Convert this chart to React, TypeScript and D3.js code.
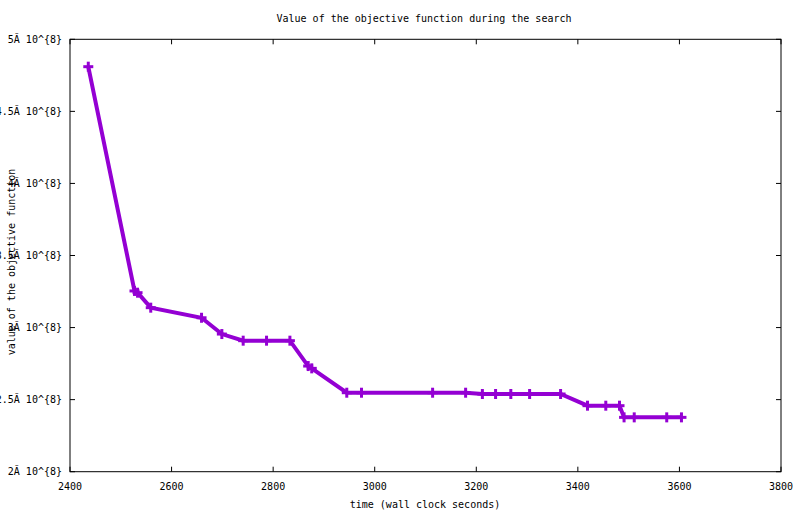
import React from "react";
import * as d3 from "d3";

const timeSeconds = [2436, 2527, 2533, 2559, 2659, 2699, 2741, 2787, 2833, 2869, 2876, 2945, 2974, 3114, 3179, 3212, 3238, 3268, 3305, 3366, 3419, 3455, 3482, 3491, 3511, 3575, 3604];
const objectiveValue = [4.81e8, 3.254e8, 3.242e8, 3.138e8, 3.068e8, 2.955e8, 2.909e8, 2.909e8, 2.909e8, 2.733e8, 2.717e8, 2.548e8, 2.548e8, 2.548e8, 2.548e8, 2.539e8, 2.539e8, 2.539e8, 2.539e8, 2.539e8, 2.458e8, 2.458e8, 2.458e8, 2.377e8, 2.377e8, 2.377e8, 2.377e8];

const xTicks = [2400, 2600, 2800, 3000, 3200, 3400, 3600, 3800];
const yTicks = [2e8, 2.5e8, 3e8, 3.5e8, 4e8, 4.5e8, 5e8];
const yTickLabels = ["2Ă 10^{8}", "2.5Ă 10^{8}", "3Ă 10^{8}", "3.5Ă 10^{8}", "4Ă 10^{8}", "4.5Ă 10^{8}", "5Ă 10^{8}"];

const titleText = "Value of the objective function during the search";
const xLabel = "time (wall clock seconds)";
const yLabel = "value of the objective function";

export default function App() {
  const W = 800, H = 514;
  const left = 70, right = 781, top = 39.3, bottom = 471.7;
  const x = d3.scaleLinear().domain([2400, 3800]).range([left, right]);
  const y = d3.scaleLinear().domain([2e8, 5e8]).range([bottom, top]);
  const pts = timeSeconds.map((t, i) => [x(t), y(objectiveValue[i])] as [number, number]);
  const line = d3.line()(pts) || "";
  const color = "#9400d3";
  const font = "'DejaVu Sans Mono', monospace";
  const tl = 5;
  const ms = 5;
  return (
    <svg width={W} height={H} style={{ position: "absolute", left: 0, top: 0, background: "#fff" }} fontFamily={font} fontSize={10}>
      <rect x={0} y={0} width={W} height={H} fill="#fff" />
      <text x={424} y={22} textAnchor="middle">{titleText}</text>
      {xTicks.map((t) => (
        <g key={"x" + t}>
          <line x1={x(t)} x2={x(t)} y1={bottom} y2={bottom - tl} stroke="#000" strokeWidth={1} />
          <line x1={x(t)} x2={x(t)} y1={top} y2={top + tl} stroke="#000" strokeWidth={1} />
          <text x={x(t)} y={490} textAnchor="middle">{t}</text>
        </g>
      ))}
      {yTicks.map((v, i) => (
        <g key={"y" + v}>
          <line x1={left} x2={left + tl} y1={y(v)} y2={y(v)} stroke="#000" strokeWidth={1} />
          <line x1={right} x2={right - tl} y1={y(v)} y2={y(v)} stroke="#000" strokeWidth={1} />
          <text x={62} y={y(v) + 3.5} textAnchor="end">{yTickLabels[i]}</text>
        </g>
      ))}
      <rect x={left} y={top} width={right - left} height={bottom - top} fill="none" stroke="#000" strokeWidth={1} />
      <text x={425} y={508} textAnchor="middle">{xLabel}</text>
      <text transform={`translate(15,${262}) rotate(-90)`} textAnchor="middle">{yLabel}</text>
      <path d={line} fill="none" stroke={color} strokeWidth={4} strokeLinejoin="miter" />
      {pts.map(([px, py], i) => (
        <g key={"m" + i} stroke={color} strokeWidth={3}>
          <line x1={px - ms} x2={px + ms} y1={py} y2={py} />
          <line x1={px} x2={px} y1={py - ms} y2={py + ms} />
        </g>
      ))}
    </svg>
  );
}
